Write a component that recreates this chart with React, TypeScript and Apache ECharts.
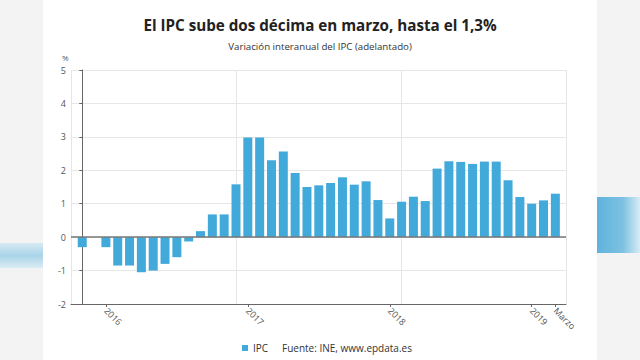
import React, { useEffect, useRef } from "react";
import * as echarts from "echarts";

const months: string[] = [
  "nov 2015", "dic 2015",
  "ene 2016", "feb 2016", "mar 2016", "abr 2016", "may 2016", "jun 2016", "jul 2016", "ago 2016", "sep 2016", "oct 2016", "nov 2016", "dic 2016",
  "ene 2017", "feb 2017", "mar 2017", "abr 2017", "may 2017", "jun 2017", "jul 2017", "ago 2017", "sep 2017", "oct 2017", "nov 2017", "dic 2017",
  "ene 2018", "feb 2018", "mar 2018", "abr 2018", "may 2018", "jun 2018", "jul 2018", "ago 2018", "sep 2018", "oct 2018", "nov 2018", "dic 2018",
  "ene 2019", "feb 2019", "mar 2019",
];

const ipc: number[] = [
  -0.3, 0.0,
  -0.3, -0.85, -0.85, -1.05, -1.0, -0.8, -0.6, -0.13, 0.18, 0.68, 0.68, 1.58,
  2.98, 2.98, 2.3, 2.56, 1.92, 1.5, 1.55, 1.62, 1.79, 1.57, 1.67, 1.11,
  0.56, 1.06, 1.21, 1.08, 2.05, 2.27, 2.25, 2.19, 2.26, 2.26, 1.7, 1.2,
  1.0, 1.1, 1.3,
];

const tickMonths: string[] = ["ene 2016", "ene 2017", "ene 2018", "ene 2019", "mar 2019"];
const tickLabels: string[] = ["2016", "2017", "2018", "2019", "Marzo"];

const yTicks: number[] = [-2, -1, 0, 1, 2, 3, 4, 5];

const FONT = "'Open Sans', 'Noto Sans', sans-serif";

export default function App() {
  const ref = useRef<HTMLDivElement>(null);
  useEffect(() => {
    if (!ref.current) return;
    const chart = echarts.init(ref.current, null, { renderer: "svg" });
    const tickIdx = tickMonths.map((m) => months.indexOf(m));
    const option: any = {
      animation: false,
      backgroundColor: "#ffffff",
      textStyle: { fontFamily: FONT },
      title: [
        {
          text: "El IPC sube dos décima en marzo, hasta el 1,3%",
          left: "center",
          top: 12,
          textStyle: { fontSize: 15.2, fontWeight: "bold", color: "#222", fontFamily: FONT },
        },
        {
          text: "Variación interanual del IPC (adelantado)",
          left: "center",
          top: 36,
          textStyle: { fontSize: 9.7, fontWeight: "normal", color: "#333", fontFamily: FONT },
        },
      ],
      legend: {
        left: 237,
        top: 338,
        icon: "rect",
        itemWidth: 6,
        itemHeight: 6,
        itemGap: 4,
        textStyle: { fontSize: 10, color: "#333", fontFamily: FONT },
        data: ["IPC"],
      },
      graphic: [
        { type: "rect", left: 0, top: 0, shape: { width: 43, height: 360 }, style: { fill: "#f3f3f3" }, z: -10 },
        { type: "rect", left: 597, top: 0, shape: { width: 43, height: 360 }, style: { fill: "#f3f3f3" }, z: -10 },
        {
          type: "rect", left: 0, top: 243, shape: { width: 43, height: 25 },
          style: {
            fill: new echarts.graphic.LinearGradient(0, 0, 0, 1, [
              { offset: 0, color: "#d6eaf3" },
              { offset: 0.5, color: "#a9d4e8" },
              { offset: 1, color: "#dbecf4" },
            ]),
          },
          z: -9,
        },
        {
          type: "rect", left: 597, top: 197, shape: { width: 43, height: 56 },
          style: {
            fill: new echarts.graphic.LinearGradient(0, 0, 1, 0, [
              { offset: 0, color: "#5fb3dc" },
              { offset: 0.6, color: "#7dc1e2" },
              { offset: 1, color: "#d8ebf4" },
            ]),
          },
          z: -9,
        },
        {
          type: "text", left: 282, top: 343,
          style: { text: "Fuente: INE, www.epdata.es", fontSize: 10, fill: "#333", fontFamily: FONT },
        },
        {
          type: "text", left: 62, top: 53,
          style: { text: "%", fontSize: 8, fill: "#555", fontFamily: FONT },
        },
      ],
      grid: { left: 71, right: 74, top: 70, bottom: 56, containLabel: false },
      xAxis: [
        {
          type: "value",
          min: -0.95,
          max: 40.9,
          axisLine: { show: true, onZero: false, lineStyle: { color: "#666", width: 1 } },
          axisTick: { show: true, length: 3, customValues: tickIdx, lineStyle: { color: "#666" } },
          axisLabel: {
            show: true,
            customValues: tickIdx,
            rotate: -45,
            margin: 5,
            fontSize: 9,
            color: "#555",
            fontFamily: FONT,
            formatter: (v: number) => {
              const k = tickIdx.indexOf(Math.round(v));
              return k >= 0 ? tickLabels[k] : "";
            },
          },
          splitLine: { show: false },
        },
        {
          type: "value",
          min: 0,
          max: 3,
          interval: 1,
          position: "top",
          axisLine: { show: false },
          axisTick: { show: false },
          axisLabel: { show: false },
          splitLine: { show: true, lineStyle: { color: "#e6e6e6", width: 1 } },
        },
      ],
      yAxis: {
        type: "value",
        min: yTicks[0],
        max: yTicks[yTicks.length - 1],
        interval: 1,
        axisLine: { show: true, lineStyle: { color: "#666", width: 1 } },
        axisTick: { show: true, length: 3, lineStyle: { color: "#666" } },
        axisLabel: { fontSize: 9, color: "#555", margin: 5, fontFamily: FONT },
        splitLine: { show: true, lineStyle: { color: "#e6e6e6", width: 1 } },
      },
      series: [
        {
          name: "IPC",
          type: "bar",
          xAxisIndex: 0,
          barWidth: 9,
          itemStyle: { color: "#42aadb" },
          data: ipc.map((v, i) => [i, v]),
          markLine: {
            silent: true,
            symbol: "none",
            label: { show: false },
            lineStyle: { color: "#777", width: 1.5, type: "solid" },
            data: [{ yAxis: 0 }],
          },
        },
      ],
    };
    chart.setOption(option);
    return () => chart.dispose();
  }, []);
  return (
    <div
      ref={ref}
      style={{ position: "absolute", left: 0, top: 0, width: 640, height: 360 }}
    />
  );
}
